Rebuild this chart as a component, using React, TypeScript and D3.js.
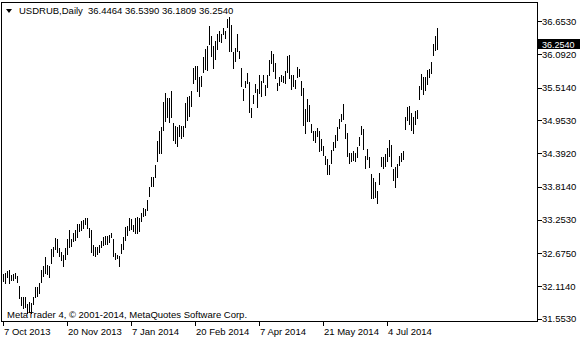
import React from "react";
import * as d3 from "d3";

const symbolTitle = "USDRUB,Daily";
const headerOHLC = ["36.4464", "36.5390", "36.1809", "36.2540"];
const lastClose = 36.254;
const copyright = "MetaTrader 4, © 2001-2014, MetaQuotes Software Corp.";

const xLabels = ["7 Oct 2013", "20 Nov 2013", "7 Jan 2014", "20 Feb 2014", "7 Apr 2014", "21 May 2014", "4 Jul 2014"];
const xLabelIndex = [0, 32, 64, 96, 128, 160, 192];

const yTicks = [36.653, 36.092, 35.514, 34.953, 34.392, 33.814, 33.253, 32.675, 32.114, 31.553];

const highs = [
  32.32, 32.33, 32.37, 32.38, 32.30, 32.32, 32.34, 32.29, 32.11, 31.93,
  31.93, 31.93, 31.81, 31.84, 31.82, 31.93, 32.09, 32.09, 32.17, 32.39,
  32.45, 32.61, 32.47, 32.45, 32.75, 32.78, 32.93, 32.92, 32.76, 32.70,
  32.65, 32.76, 32.92, 33.07, 32.92, 33.03, 33.07, 33.18, 33.18, 33.23,
  33.25, 33.28, 33.28, 33.10, 33.07, 32.82, 32.79, 32.79, 32.82, 32.89,
  32.95, 32.97, 32.97, 32.99, 33.03, 32.92, 32.68, 32.65, 32.63, 32.83,
  32.96, 33.13, 33.14, 33.28, 33.26, 33.16, 33.28, 33.29, 33.28, 33.37,
  33.45, 33.43, 33.59, 33.81, 33.98, 33.98, 34.19, 34.60, 34.77, 34.84,
  35.27, 35.43, 35.33, 35.33, 35.45, 34.91, 34.86, 34.84, 34.88, 34.85,
  34.86, 35.25, 35.35, 35.37, 35.46, 35.85, 35.89, 35.89, 35.70, 35.72,
  36.04, 36.17, 36.23, 36.57, 36.40, 36.23, 36.32, 36.44, 36.48, 36.43,
  36.53, 36.49, 36.69, 36.72, 36.59, 36.12, 36.19, 36.43, 36.14, 35.85,
  35.49, 35.63, 35.76, 35.62, 35.16, 35.39, 35.57, 35.50, 35.74, 35.63,
  35.74, 35.56, 35.73, 35.99, 36.14, 36.10, 35.93, 35.59, 35.69, 35.74,
  35.72, 35.80, 36.05, 36.08, 35.73, 35.74, 35.65, 35.87, 35.84, 35.63,
  35.51, 35.15, 35.32, 35.21, 34.90, 34.77, 34.77, 34.82, 34.77, 34.64,
  34.52, 34.35, 34.29, 34.19, 34.45, 34.59, 34.70, 34.84, 34.97, 35.06,
  35.24, 34.89, 34.73, 34.39, 34.40, 34.43, 34.40, 34.49, 34.67, 34.86,
  34.80, 34.34, 34.46, 34.32, 34.03, 33.96, 33.89, 33.75, 34.05, 34.32,
  34.33, 34.38, 34.48, 34.61, 34.53, 34.12, 34.16, 34.21, 34.34, 34.40,
  34.43, 35.02, 35.18, 35.20, 35.08, 35.01, 35.12, 35.13, 35.54, 35.75,
  35.69, 35.69, 35.82, 35.83, 35.96, 36.26, 36.40, 36.539,
];

const lows = [
  32.20, 32.17, 32.27, 32.17, 32.21, 32.22, 32.25, 32.19, 31.91, 31.79,
  31.74, 31.76, 31.65, 31.67, 31.65, 31.81, 31.93, 31.94, 32.00, 32.19,
  32.29, 32.33, 32.32, 32.26, 32.50, 32.63, 32.75, 32.70, 32.63, 32.56,
  32.45, 32.57, 32.67, 32.79, 32.80, 32.89, 32.90, 32.96, 33.05, 33.07,
  33.10, 33.18, 33.10, 32.95, 32.69, 32.65, 32.63, 32.66, 32.69, 32.79,
  32.82, 32.83, 32.83, 32.86, 32.96, 32.63, 32.58, 32.59, 32.46, 32.68,
  32.75, 32.90, 32.99, 33.07, 33.09, 33.05, 33.02, 33.03, 33.06, 33.23,
  33.31, 33.33, 33.41, 33.66, 33.83, 33.83, 33.99, 34.25, 34.40, 34.40,
  34.79, 34.95, 35.01, 34.93, 35.01, 34.61, 34.57, 34.52, 34.69, 34.66,
  34.69, 34.84, 34.96, 35.03, 35.20, 35.59, 35.66, 35.45, 35.37, 35.54,
  35.79, 35.83, 35.81, 36.26, 36.06, 35.86, 36.00, 36.17, 36.32, 36.29,
  36.43, 36.37, 36.56, 36.14, 36.14, 35.86, 35.97, 36.14, 36.02, 35.55,
  35.30, 35.53, 35.59, 35.10, 35.02, 35.25, 35.44, 35.19, 35.42, 35.38,
  35.61, 35.39, 35.53, 35.74, 35.93, 35.80, 35.68, 35.48, 35.56, 35.63,
  35.62, 35.59, 35.78, 35.68, 35.50, 35.55, 35.51, 35.70, 35.72, 35.39,
  34.88, 34.73, 34.94, 34.94, 34.75, 34.62, 34.58, 34.69, 34.43, 34.45,
  34.36, 34.20, 34.03, 34.03, 34.23, 34.45, 34.50, 34.61, 34.82, 34.95,
  34.97, 34.66, 34.34, 34.23, 34.25, 34.28, 34.25, 34.32, 34.53, 34.72,
  34.46, 34.13, 34.30, 34.15, 33.62, 33.62, 33.64, 33.53, 33.86, 34.17,
  34.13, 34.17, 34.26, 34.34, 34.17, 33.93, 33.82, 33.98, 34.19, 34.26,
  34.29, 34.80, 34.96, 34.89, 34.79, 34.74, 34.90, 34.99, 35.32, 35.50,
  35.41, 35.48, 35.58, 35.69, 35.76, 36.08, 36.16, 36.1809,
];

const W = 580;
const H = 340;
const FONT = "'Liberation Sans', Arial, sans-serif";
const FS = 9.5;

export default function App() {
  const n = highs.length;
  const x = d3.scaleLinear().domain([0, n - 1]).range([3, 3 + 2 * (n - 1)]);
  const y = d3.scaleLinear().domain([31.553, 36.653]).range([318.7, 21.3]);
  const px = (i: number) => Math.round(x(i)) + 0.5;
  const py = (v: number) => Math.round(y(v)) + 0.5;
  const plotLeft = 1.5, plotTop = 2.5, plotRight = 537.5, plotBottom = 321.5;
  const closeY = Math.round(y(lastClose));

  return (
    <svg
      width={W}
      height={H}
      style={{ position: "absolute", left: 0, top: 0, background: "#fff" }}
      fontFamily={FONT}
      fontSize={FS}
    >
      <rect x={0} y={0} width={W} height={H} fill="#fff" />
      {/* bars */}
      <g stroke="#000" strokeWidth={1} shapeRendering="crispEdges">
        {highs.map((h, i) => (
          <line key={i} x1={px(i)} x2={px(i)} y1={Math.round(y(h))} y2={Math.round(y(lows[i])) + 1} />
        ))}
      </g>
      {/* frame */}
      <rect
        x={plotLeft}
        y={plotTop}
        width={plotRight - plotLeft}
        height={plotBottom - plotTop}
        fill="none"
        stroke="#000"
        strokeWidth={1}
        shapeRendering="crispEdges"
      />
      {/* y ticks + labels */}
      {yTicks.map((t) => (
        <g key={t}>
          <line x1={plotRight} x2={plotRight + 4} y1={py(t)} y2={py(t)} stroke="#000" shapeRendering="crispEdges" />
          <text x={542} y={y(t) + 3.6} fill="#000">
            {t.toFixed(4)}
          </text>
        </g>
      ))}
      {/* current price label */}
      <rect x={538} y={closeY - 6} width={42} height={10} fill="#000" />
      <text x={542} y={closeY + 2.6} fill="#fff" fontSize={9}>
        {lastClose.toFixed(4)}
      </text>
      {/* x ticks + labels */}
      {xLabelIndex.map((idx, k) => (
        <g key={idx}>
          <line x1={px(idx)} x2={px(idx)} y1={plotBottom} y2={plotBottom + 4} stroke="#000" shapeRendering="crispEdges" />
          <text x={x(idx) + 1} y={334.5} fill="#000">
            {xLabels[k]}
          </text>
        </g>
      ))}
      {/* header */}
      <polygon points="6,9 12,9 9,13" fill="#000" />
      <text x={19} y={14} fill="#000">
        {symbolTitle}
      </text>
      <text x={88} y={14} fill="#000">
        {headerOHLC.join(" ")}
      </text>
      {/* copyright */}
      <text x={7} y={317.5} fill="#000">
        {copyright}
      </text>
    </svg>
  );
}
